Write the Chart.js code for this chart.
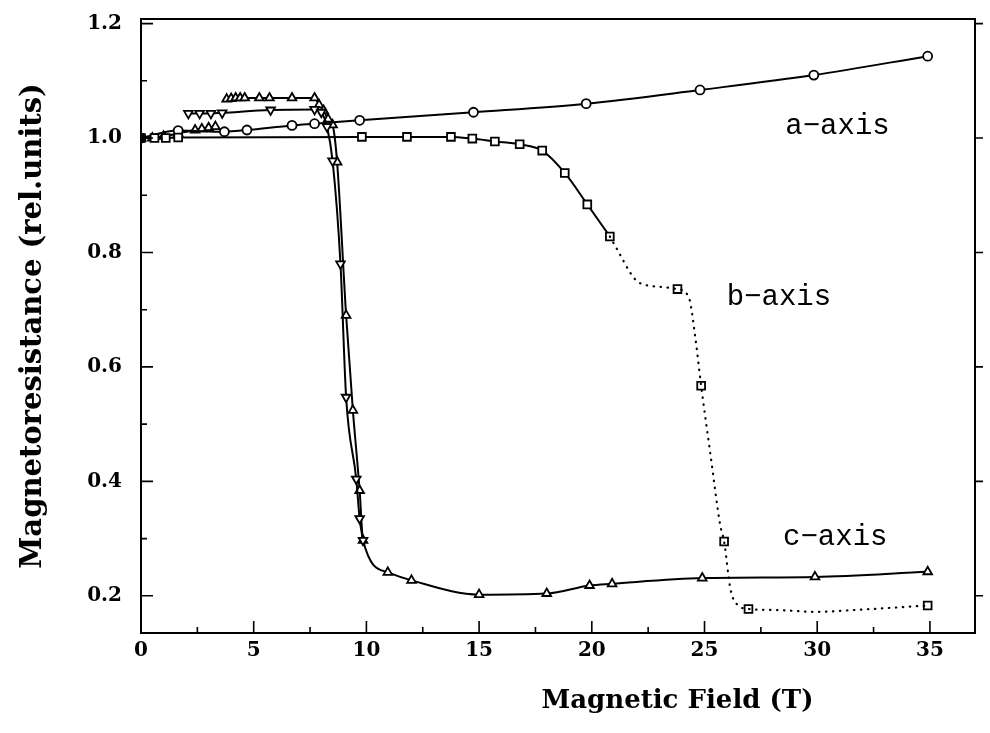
<!DOCTYPE html>
<html>
<head>
<meta charset="utf-8">
<script src="https://cdn.jsdelivr.net/npm/chart.js"></script>
<style>
  html, body { margin: 0; padding: 0; background: #fff; }
  #wrap { width: 990px; height: 733px; }
</style>
</head>
<body>
<div id="wrap"><canvas id="mrChart"></canvas></div>
<script>
// a-axis (circles)
const aField = [0, 1.65, 3.7, 4.7, 6.7, 7.7, 9.7, 14.75, 19.75, 24.8, 29.85, 34.9];
const aValue = [1.0, 1.013, 1.011, 1.014, 1.022, 1.025, 1.031, 1.045, 1.06, 1.084, 1.11, 1.143];

// b-axis (squares), solid part and the points on the dotted part
const bField = [0, 0.6, 1.1, 1.65, 9.8, 11.8, 13.75, 14.7, 15.7, 16.8, 17.8, 18.8, 19.8, 20.8];
const bValue = [1.0, 1.0, 1.0, 1.001, 1.002, 1.002, 1.002, 0.999, 0.994, 0.989, 0.978, 0.939, 0.884, 0.828];
const bHighField = [23.8, 24.85, 25.87, 26.95, 34.9];
const bHighValue = [0.736, 0.567, 0.295, 0.177, 0.183];

// dotted guide curve of the b-axis
const bGuideField = [20.8, 21.2, 21.7, 22.0, 22.4, 23.0, 23.8, 24.3, 24.6, 24.85, 25.25, 25.7, 25.87, 26.15, 26.5, 26.95, 28.3, 29.9, 32.0, 34.9];
const bGuideValue = [0.828, 0.800, 0.765, 0.750, 0.743, 0.740, 0.736, 0.722, 0.649, 0.567, 0.451, 0.323, 0.295, 0.212, 0.183, 0.177, 0.175, 0.172, 0.176, 0.183];

// c-axis (up triangles); null = no line drawn
const cField = [0, 0.5, 1.0, 1.65, 2.4, 2.7, 3.0, 3.3, 3.55, 3.8, 4.0, 4.2, 4.4, 4.6, 5.25, 5.7, 6.7, 7.7, 7.9, 8.1, 8.3, 8.5, 8.7, 9.1, 9.4, 9.7, 9.85, 10.95, 12.0, 15.0, 18.0, 19.9, 20.9, 24.9, 29.9, 34.9];
const cValue = [1.0, 1.0, 1.003, 1.008, 1.014, 1.016, 1.018, 1.02, null, 1.068, 1.069, 1.07, 1.07, 1.07, 1.07, 1.07, 1.07, 1.07, 1.058, 1.048, 1.033, 1.023, 0.958, 0.69, 0.524, 0.384, 0.297, 0.241, 0.227, 0.202, 0.204, 0.218, 0.221, 0.231, 0.233, 0.242];

// second sample (down triangles)
const dField = [2.1, 2.6, 3.1, 3.6, 5.75, 7.7, 8.0, 8.25, 8.5, 8.85, 9.1, 9.55, 9.7, 9.85];
const dValue = [1.043, 1.043, 1.043, 1.044, 1.049, 1.05, 1.045, 1.02, 0.96, 0.78, 0.547, 0.404, 0.335, 0.297];

// axes
const xTickValues = [0, 5, 10, 15, 20, 25, 30, 35];
const xTickLabels = ['0', '5', '10', '15', '20', '25', '30', '35'];
const xMinorTicks = [2.5, 7.5, 12.5, 17.5, 22.5, 27.5, 32.5];
const yTickValues = [0.2, 0.4, 0.6, 0.8, 1.0, 1.2];
const yTickLabels = ['0.2', '0.4', '0.6', '0.8', '1.0', '1.2'];
const yMinorTicks = [0.3, 0.5, 0.7, 0.9, 1.1];

const curveLabels = ['a\u2212axis', 'b\u2212axis', 'c\u2212axis'];
const yTitle = 'Magnetoresistance (rel.units)';
const xTitle = 'Magnetic Field (T)';

function toPoints(xs, ys) {
  return xs.map((x, i) => ({ x: x, y: ys[i] }));
}

const serif = "'DejaVu Serif', serif";

// frame with inward ticks, curve labels and the x title
const framePlugin = {
  id: 'framePlugin',
  afterDraw(chart) {
    const { ctx, chartArea: a, scales: { x, y } } = chart;
    ctx.save();
    ctx.strokeStyle = '#000';
    ctx.lineWidth = 2;
    ctx.strokeRect(a.left, a.top, a.right - a.left, a.bottom - a.top);

    ctx.lineWidth = 1.6;
    ctx.beginPath();
    xTickValues.forEach(v => {
      const px = x.getPixelForValue(v);
      ctx.moveTo(px, a.bottom); ctx.lineTo(px, a.bottom - 12);
    });
    xMinorTicks.forEach(v => {
      const px = x.getPixelForValue(v);
      ctx.moveTo(px, a.bottom); ctx.lineTo(px, a.bottom - 6);
    });
    yTickValues.forEach(v => {
      const py = y.getPixelForValue(v);
      ctx.moveTo(a.left, py); ctx.lineTo(a.left + 12, py);
      ctx.moveTo(a.right, py); ctx.lineTo(a.right + 8, py);
    });
    yMinorTicks.forEach(v => {
      const py = y.getPixelForValue(v);
      ctx.moveTo(a.left, py); ctx.lineTo(a.left + 6, py);
    });
    ctx.stroke();

    ctx.fillStyle = '#000';
    ctx.textAlign = 'center';
    ctx.textBaseline = 'middle';
    ctx.font = "29px 'Liberation Mono', monospace";
    ctx.fillText(curveLabels[0], x.getPixelForValue(30.9), y.getPixelForValue(1.021));
    ctx.fillText(curveLabels[1], x.getPixelForValue(28.3), y.getPixelForValue(0.722));
    ctx.fillText(curveLabels[2], x.getPixelForValue(30.8), y.getPixelForValue(0.303));

    ctx.font = 'bold 26px ' + serif;
    ctx.fillText(xTitle, x.getPixelForValue(23.8), a.bottom + 68);
    ctx.restore();
  }
};

const lineBase = {
  borderColor: '#000',
  borderWidth: 2,
  pointBorderColor: '#000',
  pointBackgroundColor: '#fff',
  pointBorderWidth: 1.8,
  cubicInterpolationMode: 'monotone',
  spanGaps: false
};

new Chart(document.getElementById('mrChart'), {
  type: 'line',
  data: {
    datasets: [
      Object.assign({}, lineBase, {
        label: 'b guide',
        data: toPoints(bGuideField, bGuideValue),
        borderWidth: 2.2,
        borderDash: [0.5, 6.5],
        borderCapStyle: 'round',
        pointRadius: 0
      }),
      Object.assign({}, lineBase, {
        label: 'b-axis',
        data: toPoints(bField, bValue),
        pointStyle: 'rect',
        pointRadius: 5.5,
        pointBackgroundColor: c => c.dataIndex === 0 ? '#000' : '#fff'
      }),
      Object.assign({}, lineBase, {
        label: 'b-axis high field',
        data: toPoints(bHighField, bHighValue),
        showLine: false,
        pointStyle: 'rect',
        pointRadius: 5.5
      }),
      Object.assign({}, lineBase, {
        label: 'a-axis',
        data: toPoints(aField, aValue),
        pointStyle: 'circle',
        pointRadius: 4.5,
        pointBackgroundColor: c => c.dataIndex === 0 ? '#000' : '#fff'
      }),
      Object.assign({}, lineBase, {
        label: 'c-axis 2',
        data: toPoints(dField, dValue),
        pointStyle: 'triangle',
        pointRotation: 180,
        pointRadius: 5
      }),
      Object.assign({}, lineBase, {
        label: 'c-axis',
        data: toPoints(cField, cValue),
        pointStyle: 'triangle',
        pointRadius: 5,
        pointBackgroundColor: c => c.dataIndex === 0 ? '#000' : '#fff'
      })
    ]
  },
  options: {
    responsive: true,
    maintainAspectRatio: false,
    animation: false,
    layout: { padding: { top: 19, right: 15, left: 0, bottom: 0 } },
    plugins: {
      legend: { display: false },
      tooltip: { enabled: false }
    },
    scales: {
      x: {
        type: 'linear',
        min: 0,
        max: 37,
        grid: { display: false, drawTicks: false },
        border: { display: false },
        afterFit: s => { s.height = 100; },
        afterBuildTicks: s => { s.ticks = xTickValues.map(v => ({ value: v })); },
        ticks: {
          padding: 6,
          color: '#000',
          font: { family: serif, size: 20, weight: 'bold' },
          maxRotation: 0,
          callback: (v, i) => xTickLabels[i]
        }
      },
      y: {
        type: 'linear',
        min: 0.135,
        max: 1.208,
        grid: { display: false, drawTicks: false },
        border: { display: false },
        afterFit: s => { s.width = 141; s.paddingTop = 0; s.paddingBottom = 0; },
        afterBuildTicks: s => { s.ticks = yTickValues.map(v => ({ value: v })); },
        ticks: {
          padding: 19,
          color: '#000',
          font: { family: serif, size: 20, weight: 'bold' },
          callback: (v, i) => yTickLabels[i]
        },
        title: {
          display: true,
          text: yTitle,
          color: '#000',
          padding: { top: 16, bottom: 0 },
          font: { family: serif, size: 29, weight: 'bold' }
        }
      }
    }
  },
  plugins: [framePlugin]
});
</script>
</body>
</html>
